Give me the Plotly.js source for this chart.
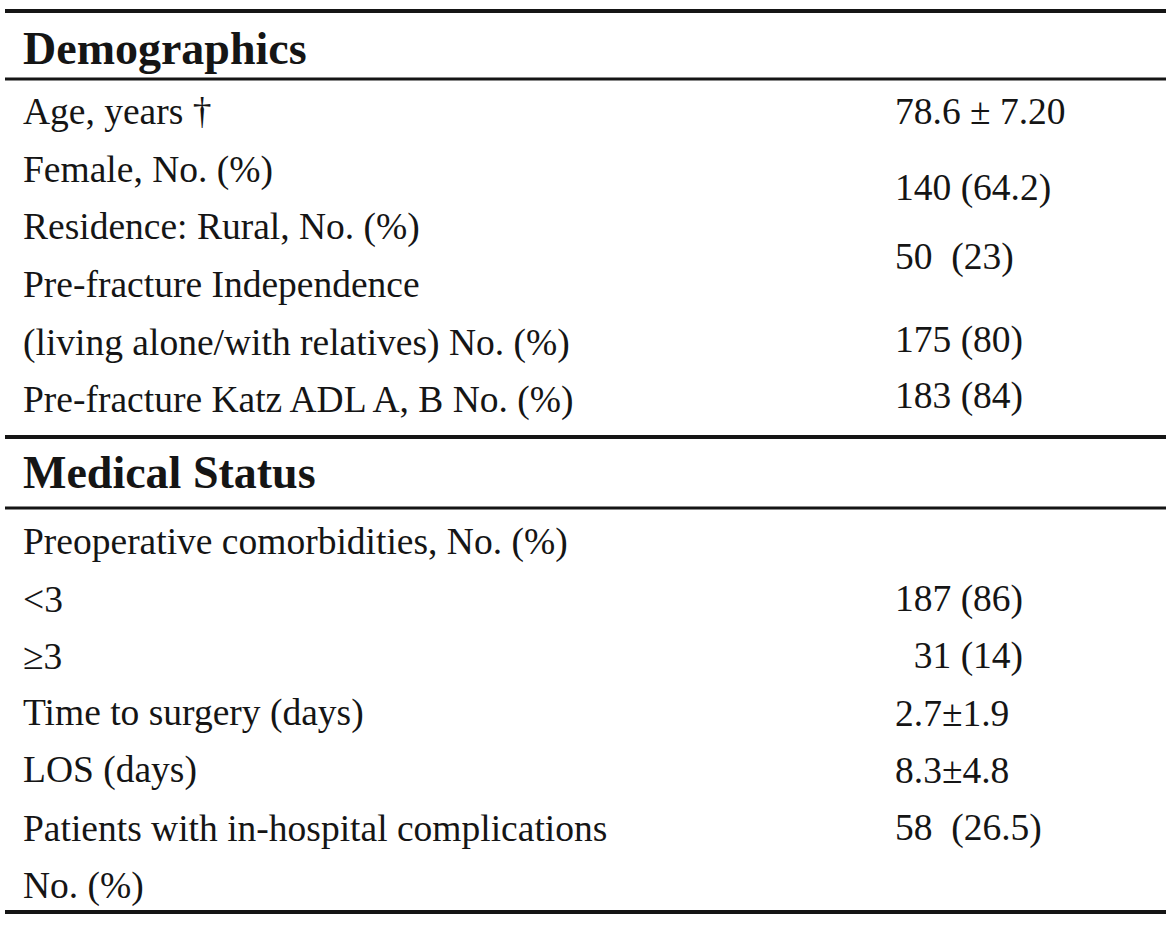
<!DOCTYPE html>
<html>
<head>
<meta charset="utf-8">
<script src="https://cdn.plot.ly/plotly-3.0.1.min.js"></script>
<style>html,body{margin:0;padding:0;background:#fff;}#chart{width:1174px;height:925px;}</style>
</head>
<body>
<div id="chart"></div>
<script>
// ---- data ----
const sectionTitles = ["Demographics", "Medical Status"];
const demoLabels = [
  "Age, years †",
  "Female, No. (%)",
  "Residence: Rural, No. (%)",
  "Pre-fracture Independence",
  "(living alone/with relatives) No. (%)",
  "Pre-fracture Katz ADL A, B No. (%)"
];
const demoValues = ["78.6 ± 7.20", "140 (64.2)", "50  (23)", "175 (80)", "183 (84)"];
const medLabels = [
  "Preoperative comorbidities, No. (%)",
  "<3",
  "≥3",
  "Time to surgery (days)",
  "LOS (days)",
  "Patients with in-hospital complications",
  "No. (%)"
];
const medValues = ["187 (86)", "\u00a0\u00a031 (14)", "2.7±1.9", "8.3±4.8", "58  (26.5)"];

// ---- layout helpers (pixel geometry) ----
const W = 1174, H = 925;
const py = p => 1 - p / H;
const px = p => p / W;
const FONT = "Liberation Serif, Times New Roman, serif";
const INK = "#151515";

// row placement
const demoLabelY = [111, 170, 227, 285, 343, 400];
const demoValueY = [111, 188, 257, 340, 396];
const medLabelY = [542, 599, 656, 713, 770, 828, 886];
const medValueY = [599, 656, 713, 770, 828];
const sectionY = [48, 472];

const annotations = [];
function addText(text, x, y, size, bold) {
  annotations.push({
    xref: "paper", yref: "paper", x: px(x), y: py(y),
    xanchor: "left", yanchor: "middle", showarrow: false,
    text: bold ? "<b>" + text + "</b>" : text,
    font: {family: FONT, size: size, color: INK}
  });
}
sectionTitles.forEach((t, i) => addText(t, 21, sectionY[i], 46, true));
demoLabels.forEach((t, i) => addText(t, 21, demoLabelY[i], 37.5));
demoValues.forEach((t, i) => addText(t, 893, demoValueY[i], 37.5));
medLabels.forEach((t, i) => addText(t, 21, medLabelY[i], 37.5));
medValues.forEach((t, i) => addText(t, 893, medValueY[i], 37.5));

const rules = [[11, 4], [79, 3], [437, 4], [508, 3], [912, 4]];
const shapes = rules.map(([y, w]) => ({
  type: "line", xref: "paper", yref: "paper",
  x0: px(5), x1: px(1166), y0: py(y), y1: py(y),
  line: {color: INK, width: w}
}));

const layout = {
  width: W, height: H,
  margin: {l: 0, r: 0, t: 0, b: 0},
  paper_bgcolor: "#ffffff", plot_bgcolor: "#ffffff",
  xaxis: {visible: false, range: [0, 1], fixedrange: true},
  yaxis: {visible: false, range: [0, 1], fixedrange: true},
  showlegend: false,
  annotations: annotations,
  shapes: shapes
};
Plotly.newPlot("chart", [], layout, {displayModeBar: false, staticPlot: true});
</script>
</body>
</html>
